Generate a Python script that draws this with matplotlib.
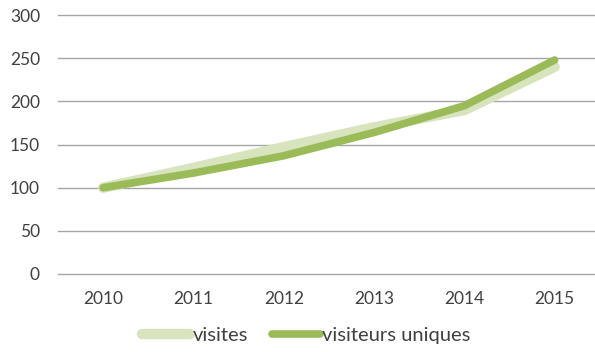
"""Visits vs unique visitors, 2010-2015 (index, 2010 = 100)."""

import matplotlib.pyplot as plt

years = ["2010", "2011", "2012", "2013", "2014", "2015"]
visites = [100, 123, 147, 170, 190, 240]
visiteurs_uniques = [100, 117, 137, 164, 195, 248]

LIGHT = "#D7E4BD"
DARK = "#9BBB59"
GRID = "#A6A6A6"
TEXT = "#404040"

plt.rcParams["font.family"] = ["Lato", "DejaVu Sans"]

fig = plt.figure(figsize=(5.95, 3.52), dpi=100, facecolor="white")
ax = fig.add_axes([0.0975, 0.2216, 0.9105, 0.7354])

x = list(range(len(years)))
ax.plot(x, visites, color=LIGHT, linewidth=7.5, solid_capstyle="round",
        solid_joinstyle="round", label="visites", zorder=3)
ax.plot(x, visiteurs_uniques, color=DARK, linewidth=5.5, solid_capstyle="round",
        solid_joinstyle="round", label="visiteurs uniques", zorder=4)

ax.set_xlim(-0.5, len(years) - 0.5)
ax.set_ylim(0, 300)
ax.set_yticks(range(0, 301, 50))
ax.set_xticks(x)
ax.set_xticklabels(years)

ax.grid(True, axis="y", color=GRID, linewidth=1.0)
ax.set_axisbelow(True)
for line in ax.get_ygridlines():
    line.set_clip_on(False)
for s in ax.spines.values():
    s.set_visible(False)
ax.tick_params(axis="both", length=0, labelsize=12.5, colors=TEXT)
ax.tick_params(axis="y", pad=13)
ax.tick_params(axis="x", pad=12)

leg = fig.legend(loc="center", bbox_to_anchor=(0.515, 0.046), ncol=2,
                 frameon=False, fontsize=14.5, handlelength=2.4,
                 handletextpad=0.1, columnspacing=1.2, borderpad=0)
for t in leg.get_texts():
    t.set_color(TEXT)

fig.savefig("out.png", dpi=100, facecolor="white")
